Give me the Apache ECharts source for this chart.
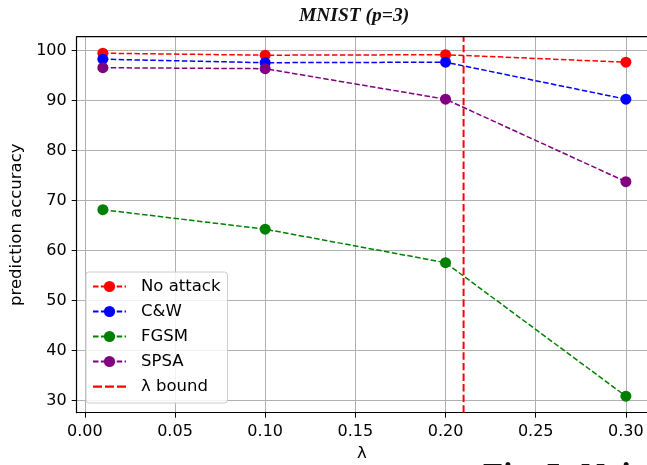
<!DOCTYPE html>
<html>
<head>
<meta charset="utf-8">
<script src="https://cdn.jsdelivr.net/npm/echarts@6/dist/echarts.min.js"></script>
<style>html,body{margin:0;padding:0;background:#fff;}#c{width:647px;height:465px;}</style>
</head>
<body>
<div id="c"></div>
<script>
const lambdas = [0.01, 0.10, 0.20, 0.30];
const noAttack = [99.5, 99.1, 99.2, 97.7];
const cw = [98.3, 97.6, 97.7, 90.3];
const fgsm = [68.2, 64.3, 57.6, 30.9];
const spsa = [96.6, 96.4, 90.3, 73.8];
const lambdaBound = 0.21;
const xTicks = [0, 0.05, 0.10, 0.15, 0.20, 0.25, 0.30];
const yTicks = [30, 40, 50, 60, 70, 80, 90, 100];
const xMin = -0.0045, xMax = 0.3117, yMin = 27.6, yMax = 102.8;

const chart = echarts.init(document.getElementById('c'), null, {renderer: 'canvas'});
const dash = [5.5, 2.4];
function s(name, vals, color) {
  return {
    name: name, type: 'line', data: lambdas.map((x, i) => [x, vals[i]]),
    symbol: 'circle', symbolSize: 11, itemStyle: {color: color},
    lineStyle: {color: color, width: 1.5, type: dash}, z: 3
  };
}
const font = 'DejaVu Sans';
const dashIcon = 'path://M0,0h0.01v0.01h-0.01zM0,6h9v2.2h-9zM12,6h9v2.2h-9zM24,6h9v2.2h-9zM32.99,14h0.01v0.01h-0.01z';
chart.setOption({
  animation: false,
  title: {
    text: 'MNIST (p=3)', left: 349, top: 1, textAlign: 'center',
    textStyle: {fontFamily: 'Liberation Serif', fontStyle: 'italic', fontWeight: 'bold', fontSize: 19.5, color: '#111'}
  },
  graphic: [{
    type: 'text', left: 483, top: 461,
    style: {text: 'Fig. 5: Noi', font: 'bold 33px "Liberation Serif"', fill: '#111'}
  }],
  grid: {left: 76.7, top: 36.7, right: 0, height: 376, containLabel: false, outerBoundsMode: 'none'},
  legend: {
    left: 86, top: 272, orient: 'vertical', itemWidth: 33, itemHeight: 14, itemGap: 8,
    padding: [6, 7, 8, 6],
    backgroundColor: 'rgba(255,255,255,0.85)', borderColor: '#cccccc', borderWidth: 1, borderRadius: 3,
    textStyle: {fontFamily: font, fontSize: 16.5, color: '#000', padding: [0, 0, 0, 10]},
    data: ['No attack', 'C&W', 'FGSM', 'SPSA', {name: 'λ bound', icon: dashIcon}]
  },
  xAxis: {
    type: 'value', min: xMin, max: xMax,
    name: 'λ', nameLocation: 'middle', nameGap: 33,
    nameTextStyle: {fontFamily: font, fontSize: 16.5, color: '#000'},
    axisLine: {show: true, onZero: false, lineStyle: {color: '#000', width: 1.2}},
    axisTick: {show: true, length: 5, lineStyle: {color: '#000', width: 1}, customValues: xTicks},
    axisLabel: {customValues: xTicks, formatter: v => v.toFixed(2), fontFamily: font, fontSize: 16, color: '#000', margin: 11},
    splitLine: {show: true, lineStyle: {color: '#b0b0b0', width: 1}}
  },
  yAxis: {
    type: 'value', min: yMin, max: yMax,
    name: 'prediction accuracy', nameLocation: 'middle', nameGap: 47,
    nameTextStyle: {fontFamily: font, fontSize: 16.5, color: '#000'},
    axisLine: {show: true, onZero: false, lineStyle: {color: '#000', width: 1.2}},
    axisTick: {show: true, length: 5, lineStyle: {color: '#000', width: 1}, customValues: yTicks},
    axisLabel: {customValues: yTicks, fontFamily: font, fontSize: 16, color: '#000', margin: 10},
    splitLine: {show: true, lineStyle: {color: '#b0b0b0', width: 1}}
  },
  series: [
    s('No attack', noAttack, '#ff0000'),
    s('C&W', cw, '#0000ff'),
    s('FGSM', fgsm, '#008000'),
    s('SPSA', spsa, '#800080'),
    {
      name: 'λ bound', type: 'line', data: [[lambdaBound, yMin], [lambdaBound, yMax]],
      symbol: 'none', itemStyle: {color: '#ff0000'},
      lineStyle: {color: '#ff0000', width: 2, type: [7.4, 3.2]}, z: 2
    },
    {
      type: 'line', data: [[xMin, yMax], [xMax, yMax]], symbol: 'none', silent: true,
      lineStyle: {color: '#000', width: 1.2}, z: 4
    }
  ]
});
</script>
</body>
</html>
